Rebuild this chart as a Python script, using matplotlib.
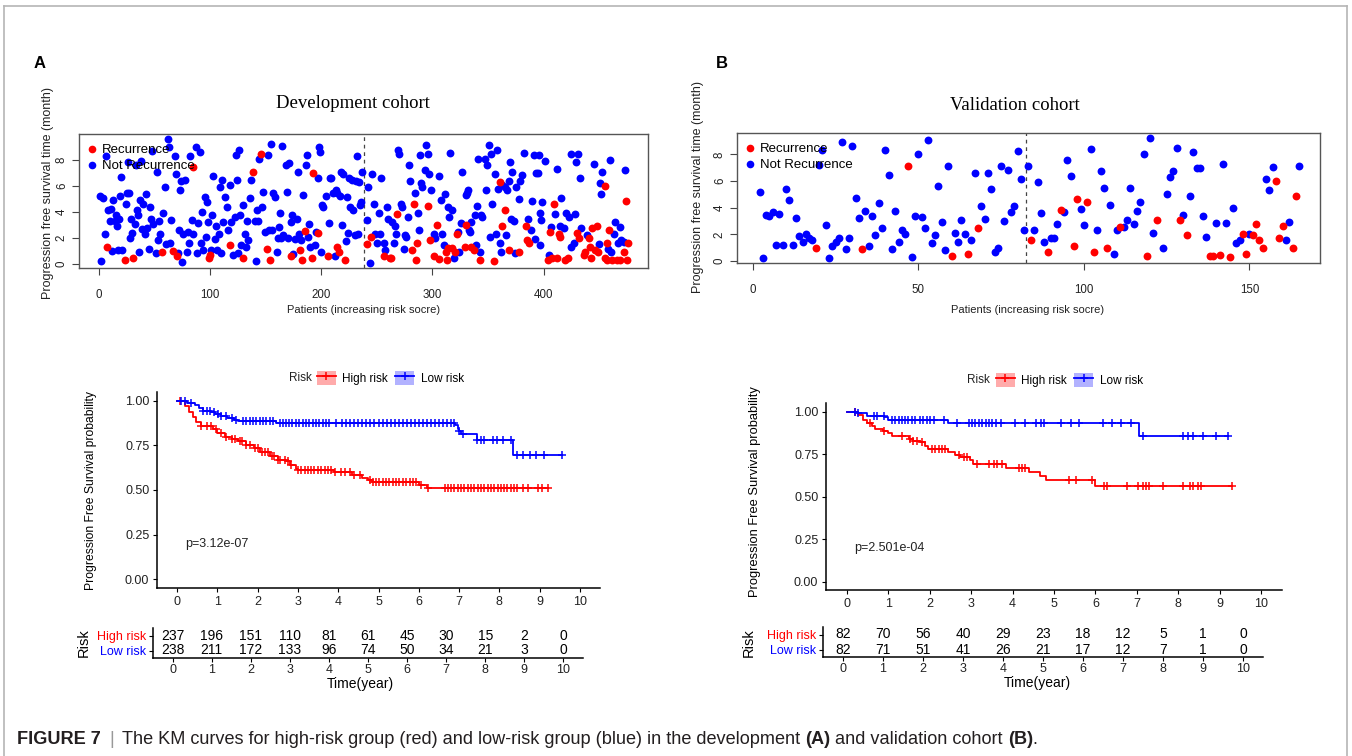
import matplotlib
matplotlib.use("Agg")
import matplotlib.pyplot as plt
from matplotlib.lines import Line2D
from matplotlib.patches import Patch
from matplotlib.legend_handler import HandlerTuple
import numpy as np

W, H = 1352, 756
RED, BLUE = "#FF0000", "#0000FF"
SANS, SERIF = "Liberation Sans", "Liberation Serif"
plt.rcParams["font.family"] = [SANS, "DejaVu Sans"]

# ---------------- data ----------------
# A: development cohort, patients ordered by risk score, PFS time (month)
devA_rec_x = [7, 23, 31, 57, 67, 70, 85, 99, 100, 118, 130, 139, 146, 151, 154, 173, 181, 183, 185, 192,
              193, 197, 206, 214, 216, 221, 241, 245, 256, 262, 263, 268, 282, 283, 285, 286, 296, 298,
              301, 304, 306, 312, 313, 314, 318, 320, 322, 329, 330, 335, 337, 343, 355, 361, 363, 365,
              369, 378, 384, 385, 387, 404, 406, 408, 409, 412, 414, 415, 419, 422, 430, 432, 436, 437,
              441, 442, 443, 444, 446, 448, 449, 455, 455, 457, 457, 459, 462, 466, 469, 472, 474, 475, 476]
devA_rec_y = [1.35, 0.35, 0.45, 0.9, 1.0, 0.6, 7.5, 0.45, 0.7, 1.5, 0.45, 7.1, 8.5, 1.15, 0.3, 0.65, 1.1,
              0.35, 2.55, 0.45, 7.0, 2.4, 0.6, 1.35, 0.95, 0.3, 1.55, 2.1, 0.6, 0.45, 0.45, 3.85, 1.1, 4.65,
              0.35, 1.6, 4.5, 1.85, 0.6, 3.0, 0.4, 0.9, 0.35, 1.2, 1.2, 0.9, 2.35, 1.35, 3.0, 1.35, 1.1,
              0.35, 0.25, 6.3, 2.95, 4.15, 1.1, 0.95, 2.9, 1.85, 1.6, 0.3, 2.5, 0.45, 4.6, 0.45, 2.35, 2.05,
              0.3, 0.45, 2.4, 2.0, 0.7, 0.95, 2.0, 1.35, 0.5, 2.75, 1.1, 2.9, 0.9, 6.0, 0.5, 1.65, 0.3, 2.65,
              0.3, 0.35, 0.35, 0.9, 4.85, 0.3, 1.6]
devA_not_x = [1, 2, 4, 5, 6, 8, 10, 11, 12, 13, 14, 15, 16, 17, 18, 19, 20, 21, 24, 25, 26, 27, 28, 29, 30,
              32, 33, 34, 35, 36, 37, 38, 39, 40, 41, 42, 43, 45, 46, 47, 48, 49, 51, 52, 53, 54, 55, 58,
              59, 60, 62, 63, 64, 65, 68, 69, 71, 72, 73, 74, 75, 76, 77, 79, 80, 81, 82, 84, 85, 87, 88,
              89, 91, 92, 93, 94, 95, 96, 97, 98, 101, 102, 103, 104, 105, 106, 108, 109, 110, 111, 112,
              113, 115, 116, 118, 119, 121, 122, 123, 124, 125, 126, 127, 128, 130, 131, 132, 133, 134,
              136, 137, 140, 141, 142, 143, 144, 147, 148, 149, 152, 153, 155, 156, 157, 158, 160, 161,
              162, 163, 164, 165, 166, 168, 169, 170, 171, 173, 174, 175, 176, 178, 179, 180, 182, 184,
              186, 187, 188, 189, 190, 194, 195, 197, 198, 199, 200, 201, 202, 204, 207, 208, 209, 211,
              212, 213, 214, 217, 218, 219, 220, 222, 223, 224, 225, 226, 228, 229, 230, 231, 232, 233,
              234, 235, 236, 237, 241, 242, 244, 246, 247, 248, 250, 252, 253, 254, 256, 257, 259, 260,
              264, 265, 266, 267, 269, 270, 272, 273, 274, 275, 276, 278, 279, 280, 284, 287, 288, 289,
              290, 291, 293, 294, 296, 297, 299, 301, 302, 306, 308, 309, 310, 311, 314, 315, 316, 318,
              319, 323, 324, 326, 327, 330, 331, 332, 333, 334, 335, 338, 339, 340, 341, 343, 344, 345,
              347, 348, 349, 351, 352, 353, 354, 356, 357, 358, 359, 361, 362, 363, 365, 366, 367, 369,
              370, 371, 372, 373, 374, 375, 378, 379, 381, 382, 386, 389, 390, 391, 392, 393, 395, 396,
              397, 397, 398, 399, 401, 405, 407, 410, 412, 415, 416, 418, 420, 423, 425, 425, 427, 428,
              429, 431, 433, 434, 439, 445, 450, 451, 452, 453, 458, 460, 461, 463, 464, 467, 469, 470,
              472, 473]
devA_not_y = [5.2, 0.25, 5.1, 2.35, 8.3, 4.15, 3.35, 4.25, 1.0, 4.95, 3.35, 3.75, 2.9, 1.1, 3.45, 5.25, 6.7,
              1.1, 4.6, 5.45, 7.85, 5.5, 2.0, 3.5, 2.4, 3.1, 7.6, 4.15, 3.75, 0.9, 4.9, 7.95, 2.7, 4.65,
              2.35, 5.4, 2.75, 1.15, 4.4, 3.5, 8.7, 3.1, 0.85, 7.1, 1.85, 3.35, 2.35, 3.9, 5.9, 1.55, 9.6,
              9.0, 1.6, 3.4, 8.3, 6.95, 0.85, 2.6, 5.7, 6.35, 0.15, 2.35, 6.5, 0.9, 2.5, 1.6, 8.3, 3.4,
              2.35, 9.0, 0.85, 3.15, 8.6, 1.6, 4.0, 1.1, 5.15, 2.1, 4.8, 3.25, 1.1, 3.75, 6.75, 1.9, 2.9,
              1.1, 2.3, 5.95, 0.85, 6.45, 3.25, 5.15, 4.4, 2.6, 6.05, 3.25, 0.7, 3.6, 8.35, 6.45, 0.85,
              8.75, 3.8, 1.5, 4.55, 2.35, 1.35, 3.35, 1.85, 5.05, 6.45, 3.35, 0.2, 4.15, 3.35, 8.1, 4.4,
              5.55, 2.5, 8.35, 2.6, 9.25, 2.6, 5.45, 5.15, 0.95, 2.0, 2.85, 3.9, 2.0, 9.1, 2.25, 7.6, 5.55,
              2.0, 7.8, 3.25, 3.75, 0.8, 1.9, 3.5, 7.05, 2.35, 1.85, 5.3, 7.6, 8.35, 2.1, 3.1, 1.35, 1.5,
              2.5, 6.6, 9.0, 8.6, 0.95, 4.55, 4.4, 5.2, 3.15, 6.6, 6.6, 5.45, 0.65, 5.7, 5.5, 5.2, 7.1,
              3.0, 6.9, 1.75, 5.15, 2.4, 6.6, 4.4, 6.45, 4.15, 2.25, 6.35, 8.3, 2.35, 6.3, 4.55, 4.75,
              7.05, 3.4, 5.95, 0.1, 6.9, 4.6, 2.35, 1.6, 3.9, 2.35, 6.6, 1.6, 1.1, 4.4, 3.5, 3.25, 1.65,
              2.9, 2.35, 8.75, 8.5, 4.6, 4.4, 1.15, 2.25, 2.1, 3.65, 7.6, 6.35, 5.45, 3.9, 2.6, 8.35, 6.2,
              5.9, 7.2, 9.15, 8.5, 6.95, 5.7, 2.3, 2.0, 6.75, 4.9, 2.3, 1.5, 5.4, 4.4, 3.65, 8.55, 4.15,
              0.45, 2.5, 0.95, 3.15, 7.05, 5.3, 5.45, 5.7, 2.6, 2.5, 3.25, 3.75, 1.5, 4.5, 8.1, 0.95, 3.75,
              3.6, 8.1, 5.7, 7.6, 9.15, 2.1, 8.5, 4.65, 6.9, 2.35, 8.8, 5.75, 1.65, 0.95, 6.1, 5.95, 2.25,
              5.7, 6.35, 7.85, 3.5, 7.1, 3.35, 0.85, 5.95, 5.0, 6.35, 6.85, 8.55, 3.45, 2.65, 4.85, 8.4,
              1.9, 7.0, 7.0, 8.4, 1.45, 3.9, 3.4, 4.8, 7.95, 0.7, 2.85, 3.85, 7.3, 2.9, 5.1, 2.75, 3.95,
              3.6, 1.35, 8.5, 1.6, 3.85, 7.85, 8.5, 6.65, 2.75, 2.25, 7.7, 1.55, 6.2, 5.4, 7.1, 1.15, 8.0,
              0.95, 2.35, 3.2, 1.6, 2.85, 1.85, 1.7, 7.25]
devA_cut = 238.5

# B: validation cohort
valB_rec_x = [19, 33, 47, 60, 65, 68, 84, 89, 93, 97, 98, 101, 103, 107, 111, 119, 122, 129, 131, 138,
              139, 141, 144, 148, 149, 151, 152, 153, 154, 158, 159, 160, 163, 164]
valB_rec_y = [1.0, 0.87, 7.1, 0.35, 0.55, 2.5, 1.6, 0.65, 3.85, 1.15, 4.65, 4.4, 0.65, 0.95, 2.55, 0.4,
              3.05, 3.1, 1.95, 0.4, 0.4, 0.45, 0.3, 2.0, 0.55, 1.95, 2.75, 1.55, 1.0, 6.0, 1.7, 2.65, 0.95,
              4.85]
valB_not_x = [2, 3, 4, 5, 6, 7, 8, 9, 10, 11, 12, 13, 14, 15, 16, 17, 18, 20, 21, 22, 23, 24, 25, 26, 27,
              28, 29, 30, 31, 32, 34, 35, 36, 37, 38, 39, 40, 41, 42, 43, 44, 45, 46, 48, 49, 50, 51, 52,
              53, 54, 55, 56, 57, 58, 59, 61, 62, 63, 64, 66, 67, 69, 70, 71, 72, 73, 74, 75, 76, 77, 78,
              79, 80, 81, 82, 83, 85, 86, 87, 88, 90, 91, 92, 94, 95, 96, 99, 100, 102, 104, 105, 106,
              108, 109, 110, 112, 113, 114, 115, 116, 117, 118, 120, 121, 124, 125, 126, 127, 128, 130,
              132, 133, 134, 135, 136, 137, 140, 142, 143, 145, 146, 147, 150, 155, 156, 157, 161, 162, 165]
valB_not_y = [5.2, 0.25, 3.45, 3.35, 3.7, 1.2, 3.5, 1.2, 5.4, 4.6, 1.2, 3.2, 1.9, 1.45, 2.05, 1.7, 1.55,
              7.2, 8.3, 2.7, 0.2, 1.1, 1.4, 1.7, 8.9, 0.87, 1.7, 8.6, 4.75, 3.25, 3.75, 1.1, 3.35, 1.95,
              4.35, 2.5, 8.3, 6.45, 0.87, 3.75, 1.45, 2.35, 2.0, 0.27, 3.35, 8.05, 3.3, 2.5, 9.1, 1.35,
              1.95, 5.6, 2.95, 0.8, 7.1, 2.1, 1.4, 3.1, 2.05, 1.55, 6.6, 4.1, 3.15, 6.6, 5.4, 0.7, 0.95,
              7.1, 3.0, 6.85, 3.65, 4.1, 8.25, 6.15, 2.35, 7.1, 2.3, 5.9, 3.6, 1.4, 1.7, 1.7, 2.75, 3.7,
              7.55, 6.35, 3.9, 2.7, 8.4, 2.35, 6.75, 5.5, 4.2, 0.55, 2.35, 2.55, 3.1, 5.5, 2.75, 3.75,
              4.45, 8.05, 9.2, 2.1, 0.95, 5.05, 6.3, 6.75, 8.45, 3.45, 4.85, 8.2, 7.0, 7.0, 3.35, 1.8,
              2.85, 7.25, 2.85, 3.95, 1.35, 1.6, 2.05, 6.15, 5.35, 7.05, 1.6, 2.95, 7.15]
valB_cut = 82.5

# Kaplan-Meier step points (time in years, survival probability)
kmA_high_t = [0, 0.2, 0.3, 0.4, 0.46, 0.6, 0.9, 1.0, 1.2, 1.35, 1.5, 1.7, 1.9, 2.05, 2.3, 2.5, 2.7, 2.8,
              2.95, 3.0, 3.9, 4.35, 4.6, 4.75, 4.85, 6.0, 6.2, 9.2]
kmA_high_s = [1.0, 0.97, 0.94, 0.91, 0.88, 0.86, 0.84, 0.82, 0.795, 0.785, 0.775, 0.75, 0.733, 0.715,
              0.69, 0.67, 0.66, 0.64, 0.62, 0.61, 0.60, 0.585, 0.57, 0.555, 0.543, 0.528, 0.51, 0.51]
kmA_high_cens = [0.07, 0.6, 0.73, 0.85, 0.97, 1.1, 1.22, 1.35, 1.43, 1.55, 1.6, 1.7, 1.8, 1.93, 2.0, 2.1,
                 2.17, 2.25, 2.35, 2.4, 2.5, 2.55, 2.67, 2.75, 2.83, 3.0, 3.08, 3.17, 3.25, 3.33, 3.41,
                 3.5, 3.58, 3.66, 3.74, 3.83, 3.91, 4.07, 4.16, 4.28, 4.4, 4.53, 4.78, 4.86, 4.94, 5.02,
                 5.1, 5.19, 5.27, 5.35, 5.43, 5.52, 5.6, 5.68, 5.77, 5.85, 5.93, 6.06, 6.22, 6.64, 6.72,
                 6.8, 6.88, 6.97, 7.05, 7.13, 7.21, 7.3, 7.38, 7.46, 7.55, 7.63, 7.71, 7.79, 7.88, 7.96,
                 8.04, 8.12, 8.2, 8.29, 8.37, 8.45, 8.6, 8.7, 8.95, 9.07, 9.2]
kmA_low_t = [0, 0.25, 0.45, 0.55, 0.65, 0.85, 0.95, 1.1, 1.25, 1.4, 1.5, 2.45, 6.9, 6.97, 7.0, 7.05,
             7.45, 8.35, 9.55]
kmA_low_s = [1.0, 0.99, 0.975, 0.96, 0.945, 0.935, 0.925, 0.915, 0.905, 0.895, 0.89, 0.878, 0.865,
             0.845, 0.83, 0.815, 0.78, 0.695, 0.695]
kmA_low_cens = [0.1, 0.2, 0.35, 0.65, 0.73, 0.81, 0.91, 1.02, 1.1, 1.22, 1.35, 1.45, 1.64, 1.72, 1.8,
                1.88, 1.97, 2.05, 2.13, 2.21, 2.3, 2.38, 2.55, 2.62, 2.7, 2.78, 2.86, 2.95, 3.03, 3.12,
                3.2, 3.28, 3.37, 3.45, 3.53, 3.62, 3.7, 3.78, 3.95, 4.1, 4.2, 4.3, 4.4, 4.5, 4.6, 4.7,
                4.8, 4.9, 5.0, 5.1, 5.2, 5.3, 5.4, 5.5, 5.6, 5.7, 5.8, 5.9, 6.0, 6.1, 6.2, 6.3, 6.4, 6.5,
                6.6, 6.7, 6.8, 6.88, 7.0, 7.1, 7.45, 7.55, 7.62, 7.85, 7.95, 8.1, 8.28, 8.45, 8.6, 8.75,
                8.9, 9.1, 9.55]

kmB_high_t = [0, 0.26, 0.39, 0.48, 0.6, 0.68, 0.88, 1.0, 1.09, 1.5, 1.6, 1.77, 1.89, 1.97, 2.45, 2.6,
              2.73, 2.97, 3.05, 3.85, 4.4, 4.66, 4.8, 6.0, 9.3]
kmB_high_s = [1.0, 0.98, 0.95, 0.93, 0.915, 0.90, 0.886, 0.872, 0.856, 0.838, 0.828, 0.818, 0.797, 0.777,
              0.759, 0.745, 0.73, 0.714, 0.69, 0.67, 0.645, 0.62, 0.60, 0.56, 0.56]
kmB_high_cens = [0.2, 0.56, 0.89, 1.33, 1.53, 1.61, 1.69, 1.81, 2.06, 2.14, 2.22, 2.3, 2.38, 2.7, 2.82,
                 2.9, 3.15, 3.43, 3.55, 3.63, 3.75, 4.15, 4.23, 4.31, 5.36, 5.52, 5.92, 6.21, 6.29, 6.77,
                 7.02, 7.14, 7.22, 7.3, 7.62, 8.1, 8.27, 8.35, 8.47, 8.55, 9.3]
kmB_low_t = [0, 0.25, 0.5, 0.9, 1.0, 2.45, 7.05, 9.2]
kmB_low_s = [1.0, 0.99, 0.975, 0.965, 0.95, 0.93, 0.855, 0.855]
kmB_low_cens = [0.2, 0.28, 0.65, 0.73, 0.89, 1.09, 1.17, 1.25, 1.33, 1.41, 1.49, 1.57, 1.65, 1.77, 1.85,
                1.94, 2.02, 2.1, 2.34, 2.66, 2.94, 3.02, 3.1, 3.18, 3.27, 3.35, 3.43, 3.51, 3.59, 3.71,
                4.07, 4.31, 4.56, 4.68, 4.76, 5.16, 5.4, 5.6, 6.17, 6.41, 6.61, 6.85, 7.14, 8.1, 8.23,
                8.35, 8.59, 8.91, 9.2]

years = list(range(11))
riskA_high = [237, 196, 151, 110, 81, 61, 45, 30, 15, 2, 0]
riskA_low = [238, 211, 172, 133, 96, 74, 50, 34, 21, 3, 0]
riskB_high = [82, 70, 56, 40, 29, 23, 18, 12, 5, 1, 0]
riskB_low = [82, 71, 51, 41, 26, 21, 17, 12, 7, 1, 0]

fig = plt.figure(figsize=(W / 100, H / 100), dpi=100)


def fx(x):
    return x / W


def fy(y):
    return 1 - y / H


def px_axes(l, t, r, b):
    return fig.add_axes([l / W, 1 - b / H, (r - l) / W, (b - t) / H])


def scatter_panel(box, xlim, ylim, xticks, not_x, not_y, rec_x, rec_y, cut):
    ax = px_axes(*box)
    ax.scatter(not_x, not_y, s=32, color=BLUE, linewidths=0, zorder=2)
    ax.scatter(rec_x, rec_y, s=32, color=RED, linewidths=0, zorder=2)
    ax.axvline(cut, color="#444444", lw=0.9, ls=(0, (3, 3)), zorder=1)
    ax.set_xlim(*xlim)
    ax.set_ylim(*ylim)
    ax.set_xticks(xticks)
    ax.set_yticks([0, 2, 4, 6, 8])
    for sp in ax.spines.values():
        sp.set_color("#555555")
        sp.set_linewidth(1.0)
    ax.tick_params(length=5, width=0.8, color="#444444", labelsize=8.3, labelcolor="#222222")
    ax.tick_params(axis="x", pad=10)
    ax.tick_params(axis="y", pad=3)
    plt.setp(ax.get_yticklabels(), rotation=90, va="center")
    bw, bh = box[2] - box[0], box[3] - box[1]
    hs = [Line2D([], [], ls="none", marker="o", ms=5.5, mew=0, color=c) for c in (RED, BLUE)]
    ax.legend(hs, ["Recurrence", "Not Recurrence"], loc="upper left",
              bbox_to_anchor=(6 / bw, 1 - 10 / bh), frameon=False, borderpad=0, borderaxespad=0,
              handlelength=1.0, handletextpad=0.3, labelspacing=0.3, prop={"size": 9.5})
    return ax


def km_panel(box, curves):
    ax = px_axes(*box)
    for t, s, cens, c in curves:
        ax.step(t, s, where="post", color=c, lw=1.3)
        idx = np.searchsorted(t, cens, side="right") - 1
        ax.plot(cens, np.asarray(s)[idx], ls="none", marker="+", ms=6, mew=1.1, color=c)
    ax.set_xlim(-0.5, 10.5)
    ax.set_ylim(-0.05, 1.05)
    ax.set_xticks(years)
    ax.set_yticks([0, 0.25, 0.5, 0.75, 1.0])
    ax.set_yticklabels(["0.00", "0.25", "0.50", "0.75", "1.00"])
    for k in ("top", "right"):
        ax.spines[k].set_visible(False)
    for k in ("left", "bottom"):
        ax.spines[k].set_linewidth(1.1)
    ax.tick_params(length=3, width=0.8, pad=2.5, labelsize=9, labelcolor="#222222")
    return ax


def risk_table(box, high, low):
    ax = px_axes(*box)
    for yr, h, lo in zip(years, high, low):
        ax.text(yr, 2, str(h), ha="center", va="center", size=10)
        ax.text(yr, 1, str(lo), ha="center", va="center", size=10)
    ax.set_xlim(-0.5, 10.5)
    ax.set_ylim(0.5, 2.5)
    ax.set_xticks(years)
    ax.set_yticks([1, 2])
    ax.set_yticklabels(["Low risk", "High risk"])
    for lab, c in zip(ax.get_yticklabels(), (BLUE, RED)):
        lab.set_color(c)
    for k in ("top", "right"):
        ax.spines[k].set_visible(False)
    for k in ("left", "bottom"):
        ax.spines[k].set_linewidth(1.1)
    ax.tick_params(length=3, width=0.8, pad=2, labelsize=9)
    ax.tick_params(axis="x", labelcolor="#222222", pad=1)
    return ax


def km_legend(x_risk, x_patch, y):
    fig.text(fx(x_risk), fy(y), "Risk", size=8.5, ha="left", va="center", color="#222222")
    hs = []
    for c, fc in ((RED, (1, 0, 0, 0.33)), (BLUE, (0, 0, 1, 0.3))):
        hs.append((Patch(facecolor=fc, edgecolor="none"),
                   Line2D([], [], color=c, lw=1.3, marker="+", ms=6, mew=1.1)))
    fig.legend(hs, ["High risk", "Low risk"], handler_map={tuple: HandlerTuple()}, ncol=2,
               loc="center left", bbox_to_anchor=(fx(x_patch), fy(y)), frameon=False,
               borderpad=0, borderaxespad=0, handlelength=1.6, handleheight=1.45,
               handletextpad=0.55, columnspacing=0.6, prop={"size": 8.5})


# ---------------- scatter plots ----------------
scatter_panel((79, 134, 648, 268), (-18, 494), (-0.3, 10.0), [0, 100, 200, 300, 400],
              devA_not_x, devA_not_y, devA_rec_x, devA_rec_y, devA_cut)
scatter_panel((737, 133, 1320, 263), (-4.8, 171.3), (-0.15, 9.6), [0, 50, 100, 150],
              valB_not_x, valB_not_y, valB_rec_x, valB_rec_y, valB_cut)

fig.text(fx(353), fy(103), "Development cohort", family=SERIF, size=13.5, ha="center", va="center")
fig.text(fx(1015), fy(105), "Validation cohort", family=SERIF, size=13.5, ha="center", va="center")
for x, y in ((48, 193), (698, 187)):
    fig.text(fx(x), fy(y), "Progression free survival time (month)", size=9, rotation=90,
             ha="center", va="center", color="#222222")
for x in (364, 1028):
    fig.text(fx(x), fy(310), "Patients (increasing risk socre)", size=8, ha="center", va="center",
             color="#222222")

fig.text(fx(40), fy(63), "A", size=12, weight="bold", ha="center", va="center")
fig.text(fx(722), fy(63), "B", size=12, weight="bold", ha="center", va="center")

# ---------------- KM curves ----------------
km_panel((157, 392, 600, 588), [(kmA_high_t, kmA_high_s, kmA_high_cens, RED),
                                (kmA_low_t, kmA_low_s, kmA_low_cens, BLUE)])
km_panel((826, 403, 1282, 590), [(kmB_high_t, kmB_high_s, kmB_high_cens, RED),
                                 (kmB_low_t, kmB_low_s, kmB_low_cens, BLUE)])
km_legend(289, 317, 378)
km_legend(967, 996, 380)
fig.text(fx(91), fy(491), "Progression Free Survival probability", size=8.7, rotation=90,
         ha="center", va="center")
fig.text(fx(755), fy(492), "Progression Free Survival probability", size=9.3, rotation=90,
         ha="center", va="center")
fig.text(fx(185), fy(544), "p=3.12e-07", size=9, ha="left", va="center", color="#222222")
fig.text(fx(854), fy(548), "p=2.501e-04", size=9, ha="left", va="center", color="#222222")

# ---------------- risk tables ----------------
risk_table((153, 628, 583, 658), riskA_high, riskA_low)
risk_table((823, 627, 1263, 657), riskB_high, riskB_low)
fig.text(fx(84), fy(643), "Risk", size=10.5, rotation=90, ha="center", va="center")
fig.text(fx(749), fy(643), "Risk", size=10.5, rotation=90, ha="center", va="center")
fig.text(fx(360), fy(684), "Time(year)", size=10, ha="center", va="center")
fig.text(fx(1037), fy(683), "Time(year)", size=10, ha="center", va="center")

# ---------------- frame and caption ----------------
for xs, ys in (((4, 1347), (6, 6)), ((4, 4), (6, 756)), ((1347, 1347), (6, 756))):
    fig.add_artist(Line2D([fx(v) for v in xs], [fy(v) for v in ys], color="#B5B5B5", lw=1.2))

cap_pieces = [("FIGURE 7", "bold", "#231F20"), ("|", "normal", "#999999"),
              ("The KM curves for high-risk group (red) and low-risk group (blue) in the development",
               "normal", "#231F20"),
              ("(A)", "bold", "#231F20"), ("and validation cohort", "normal", "#231F20"),
              ("(B)", "bold", "#231F20"), (".", "normal", "#231F20")]
cap_gaps = [0.45, 0.45, 0.28, 0.28, 0.28, 0.0]
renderer = fig.canvas.get_renderer()


def place_caption(size):
    arts, x = [], 17.0
    for i, (txt, wt, col) in enumerate(cap_pieces):
        t = fig.text(fx(x), fy(740), txt, size=size, weight=wt, color=col, ha="left", va="center")
        arts.append(t)
        x += t.get_window_extent(renderer).width
        if i < len(cap_gaps):
            x += cap_gaps[i] * size * 100 / 72
    return arts, x - 17.0


arts, width = place_caption(11)
for a in arts:
    a.remove()
place_caption(11 * 1018 / width)

fig.savefig("out.png", dpi=100)
